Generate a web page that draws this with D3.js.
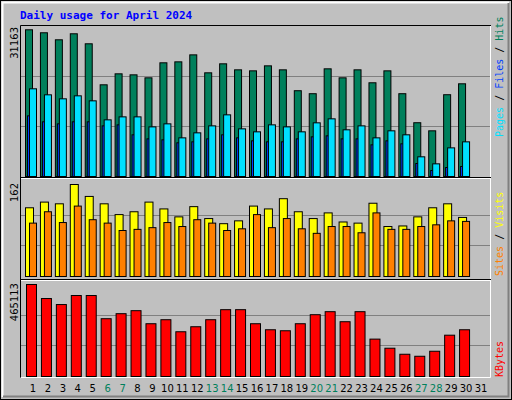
<!DOCTYPE html>
<html>
<head>
<meta charset="utf-8">
<script src="https://d3js.org/d3.v7.min.js"></script>
<style>body{margin:0;background:#fff}</style>
</head>
<body>
<div id="chart"></div>
<script>
// データ
const days = d3.range(1, 32);
const weekendDays = [6, 7, 13, 14, 20, 21, 27, 28];
const hits = [30480,29860,28400,29650,27570,19050,21330,21120,20500,23620,23820,25270,21540,23410,22160,21950,22990,22160,17820,17200,22370,20500,22160,19470,21950,17200,11170,9490,16990,19260];
const files = [18220,16970,16140,16760,15720,11770,12390,12390,10310,10940,8030,9070,10520,12810,9900,9280,10730,10310,9280,11150,11980,9700,10520,8030,9490,8660,4090,2630,5950,7200];
const pages = [12600,11360,10940,11360,11360,10520,10730,8660,7820,7620,7000,7200,7820,8660,8030,7410,7200,7200,7820,8240,8450,7820,7820,6580,7410,6790,2700,1250,1870,2080];
const sites = [121,131,128,162,141,128,109,114,131,119,105,123,102,93,98,124,119,137,114,102,112,96,94,129,88,89,105,121,128,104];
const visits = [94,114,95,124,100,94,81,83,86,95,88,100,94,81,84,109,86,102,84,76,88,88,77,112,83,83,88,91,98,97];
const kbytes = [465113,394200,363750,409410,409410,292160,317540,332760,266800,287100,226200,251570,287100,337840,337840,266800,236340,231260,266800,312460,327680,276950,327680,189000,142950,112500,102300,127650,208820,236340];
const maxHits = 31163, maxSites = 162, maxKB = 465113;

const W = 512, H = 400;
const svg = d3.select("#chart").append("svg").attr("width", W).attr("height", H);

// 外枠
svg.append("rect").attr("width", W).attr("height", H).attr("fill", "#C0C0C0");
svg.append("rect").attr("x", 0.5).attr("y", 0.5).attr("width", W-1).attr("height", H-1).attr("fill", "none").attr("stroke", "#000");
svg.append("path").attr("d", "M2.5,397V2.5H509").attr("fill", "none").attr("stroke", "#fff").attr("stroke-width", 2);
svg.append("path").attr("d", "M3,396.5H508.5V3").attr("fill", "none").attr("stroke", "#808080").attr("stroke-width", 2);

svg.append("text").text("Daily usage for April 2024")
  .attr("x", 20).attr("y", 19)
  .style("font", "bold 11px 'DejaVu Sans Mono'").attr("fill", "#0000FF");

// パネル枠
const px0 = 20, px1 = 491;
svg.append("path").attr("d", `M${px0+0.5},${377.5}V25.5H${px1}`).attr("stroke", "#000").attr("fill", "none");
svg.append("path").attr("d", `M${px0+1},${377.5}H${px1-0.5}V26`).attr("stroke", "#fff").attr("fill", "none");

const x = d3.scaleLinear().domain([1, 31]).range([25, 473]);

const panels = [
  {top: 26, base: 176, max: maxHits, sep: 177},
  {top: 184, base: 276, max: maxSites, sep: 279},
  {top: 284, base: 376, max: maxKB, sep: null}
];
const yH = d3.scaleLinear().domain([0, maxHits]).range([176, 26]);
const yS = d3.scaleLinear().domain([0, maxSites]).range([276, 184]);
const yK = d3.scaleLinear().domain([0, maxKB]).range([376, 284]);

// グリッド線
[[yH, maxHits], [yS, maxSites], [yK, maxKB]].forEach(([y, m]) => {
  svg.selectAll(null).data([m/3, 2*m/3]).enter().append("line")
    .attr("x1", px0+1).attr("x2", px1-1)
    .attr("y1", d => Math.round(y(d))+0.5).attr("y2", d => Math.round(y(d))+0.5)
    .attr("stroke", "#808080");
});
// 区切り線
[177, 279].forEach(v => {
  svg.append("line").attr("x1", px0+1).attr("x2", px1).attr("y1", v+0.5).attr("y2", v+0.5).attr("stroke", "#000");
  svg.append("line").attr("x1", px0+1).attr("x2", px1).attr("y1", v+1.5).attr("y2", v+1.5).attr("stroke", "#fff");
});

function bars(data, y, off, w, color) {
  svg.selectAll(null).data(data).enter().append("rect")
    .attr("x", (d, i) => x(i+1) + off + 0.5)
    .attr("y", d => y(d) + 0.5)
    .attr("width", w)
    .attr("height", d => y(0) - y(d))
    .attr("fill", color).attr("stroke", "#000");
}
bars(hits, yH, 0, 7, "#00805C");
bars(pages, yH, 2, 7, "#0040FF");
bars(files, yH, 4, 7, "#00E0FF");
bars(sites, yS, 0, 8, "#FFFF00");
bars(visits, yS, 4, 7, "#FF8000");
bars(kbytes, yK, 1, 10, "#FF0000");

// 日付ラベル
svg.selectAll(null).data(days).enter().append("text")
  .text(d => d)
  .attr("x", d => x(d) + 8).attr("y", 392)
  .attr("text-anchor", "middle")
  .style("font", "10px 'DejaVu Sans'")
  .attr("fill", d => weekendDays.includes(d) ? "#00805C" : "#000");

// 左の最大値ラベル
[[maxHits, 27], [maxSites, 183], [maxKB, 283]].forEach(([v, yy]) => {
  svg.append("text").text(v)
    .attr("transform", `translate(18,${yy}) rotate(-90)`)
    .attr("text-anchor", "end")
    .style("font", "10px 'DejaVu Sans'").attr("fill", "#000");
});

// 右の凡例
function legend(parts, yy) {
  const t = svg.append("text")
    .attr("transform", `translate(503,${yy}) rotate(-90)`)
    .style("font", "10px 'DejaVu Sans Mono'");
  parts.forEach(([s, c]) => t.append("tspan").text(s).attr("fill", c));
}
legend([["Pages", "#00E0FF"], [" / ", "#000"], ["Files", "#0040FF"], [" / ", "#000"], ["Hits", "#00805C"]], 137);
legend([["Sites", "#FF8000"], [" / ", "#000"], ["Visits", "#FFFF00"]], 276);
legend([["KBytes", "#FF0000"]], 377);
</script>
</body>
</html>
